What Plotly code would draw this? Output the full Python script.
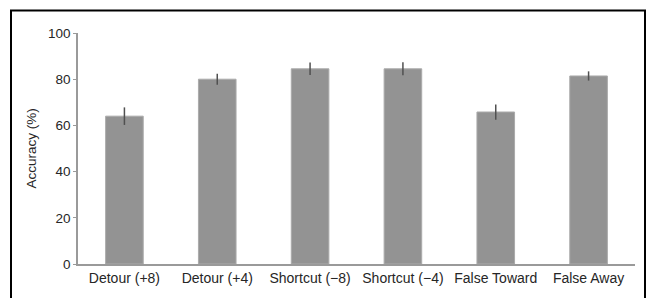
import plotly.graph_objects as go

categories = ["Detour (+8)", "Detour (+4)", "Shortcut (\u22128)", "Shortcut (\u22124)", "False Toward", "False Away"]
accuracy = [64.0, 80.0, 84.5, 84.5, 65.8, 81.4]
errors = [3.8, 2.4, 2.7, 2.8, 3.3, 2.0]
y_ticks = [0, 20, 40, 60, 80, 100]

font_family = "Liberation Sans, Arial, Helvetica, sans-serif"

fig = go.Figure()
fig.add_trace(go.Bar(
    x=categories,
    y=accuracy,
    marker=dict(color="#939393", line=dict(color="#ababab", width=1)),
    error_y=dict(type="data", array=errors, visible=True, color="#505050", thickness=1.5, width=0),
    width=0.405,
))

fig.update_layout(
    width=650, height=298,
    margin=dict(l=78, r=15, t=33, b=34, autoexpand=False),
    paper_bgcolor="white", plot_bgcolor="white",
    showlegend=False,
    font=dict(family=font_family, size=14, color="#262626"),
    xaxis=dict(
        range=[-0.5, 5.5],
        showline=True, linecolor="#9a9a9a", linewidth=1.5,
        ticks="", showgrid=False, zeroline=False,
        tickfont=dict(size=14), automargin=False,
    ),
    yaxis=dict(
        range=[0, 100],
        tickvals=y_ticks,
        showline=True, linecolor="#9a9a9a", linewidth=1.5,
        ticks="outside", ticklen=3, tickcolor="#9a9a9a", tickwidth=1,
        showgrid=False, zeroline=False,
        tickfont=dict(size=13.5), automargin=False,
        title=dict(text="Accuracy (%)", font=dict(size=13.5), standoff=8),
    ),
    shapes=[dict(
        type="rect", xref="paper", yref="paper",
        x0=(11 - 78) / 557, x1=(645 - 78) / 557,
        y0=(264 - 310) / 231, y1=(264 - 10.5) / 231,
        line=dict(color="black", width=2), fillcolor="rgba(0,0,0,0)",
        layer="above",
    )],
)

fig.write_html(
    "out.html",
    config={"displayModeBar": False},
    post_script="document.body.style.margin='0';document.body.style.overflow='hidden';",
)
